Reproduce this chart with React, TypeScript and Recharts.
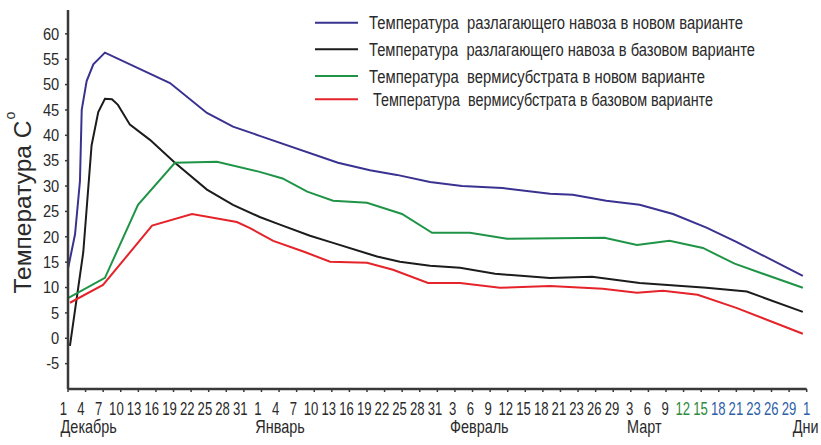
import React from 'react';
import { LineChart, Line, XAxis, YAxis, Legend } from 'recharts';

// X-axis tick labels (uniformly spaced categories)
const dayLabels = [
  '1', '4', '7', '10', '13', '16', '19', '22', '25', '28', '31',
  '1', '4', '7', '10', '13', '16', '19', '22', '25', '28', '31',
  '3', '6', '9', '12', '15', '18', '21', '23', '26', '29',
  '3', '6', '9', '12', '15', '18', '21', '23', '26', '29',
  '1',
];
const monthLabels = [
  { index: 0, name: 'Декабрь' },
  { index: 11, name: 'Январь' },
  { index: 22, name: 'Февраль' },
  { index: 32, name: 'Март' },
  { index: 42, name: 'Дни' },
];
const greenDayIdx = [35, 36];
const blueDayIdx = [37, 38, 39, 40, 41, 42];
const yTicks = [-5, 0, 5, 10, 15, 20, 25, 30, 35, 40, 45, 50, 55, 60];

const seriesNames = [
  'Температура  разлагающего навоза в новом варианте',
  'Температура  разлагающего навоза в базовом варианте',
  'Температура  вермисубстрата в новом варианте',
  'Температура  вермисубстрата в базовом варианте',
];

// [position on the day-label axis, temperature °C]
const manureNew: [number, number][] = [
  [0, 13.7], [0.4, 20.5], [0.68, 31], [0.78, 45], [1.06, 50.7], [1.44, 54], [2.1, 56.3],
  [5.8, 50.3], [7.9, 44.4], [9.38, 41.7], [10.9, 39.9], [15.35, 34.6], [17.17, 33.1],
  [18.7, 32.2], [20.58, 30.8], [22.4, 30.0], [24.7, 29.6], [27.4, 28.5], [28.7, 28.3],
  [30.6, 27.1], [32.5, 26.3], [34.4, 24.5], [36.3, 21.8], [38.0, 19.0], [41.78, 12.3],
];
const manureBase: [number, number][] = [
  [0.11, -1.5], [0.87, 17], [1.34, 38], [1.72, 44.6], [2.1, 47.2], [2.5, 47.1], [2.84, 46],
  [3.52, 42.1], [4.66, 39.1], [6.08, 34.6], [7.9, 29.3], [9.38, 26.3], [10.9, 23.9],
  [12.05, 22.4], [13.76, 20.2], [15.07, 18.8], [17.57, 16.1], [18.87, 15.1], [20.58, 14.3],
  [22.29, 13.9], [24.28, 12.7], [27.4, 11.9], [29.8, 12.1], [32.5, 10.9], [36.3, 9.95],
  [38.6, 9.2], [41.78, 5.2],
];
const vermiNew: [number, number][] = [
  [0, 7.9], [2.1, 11.9], [3.98, 26.3], [6.08, 34.6], [8.47, 34.8], [10.9, 32.8],
  [12.2, 31.5], [13.6, 28.9], [15.07, 27.1], [17.0, 26.7], [18.99, 24.5], [20.7, 20.8],
  [22.85, 20.8], [24.96, 19.6], [30.5, 19.8], [32.35, 18.4], [34.2, 19.2], [36.1, 17.8],
  [37.9, 14.7], [41.78, 9.95],
];
const vermiBase: [number, number][] = [
  [0.11, 7.0], [1.99, 10.5], [4.78, 22.2], [7.05, 24.5], [9.6, 22.9], [10.35, 21.7],
  [11.67, 19.2], [13.38, 17.1], [14.9, 15.1], [17.0, 14.9], [18.48, 13.5], [20.47, 10.9],
  [22.29, 10.9], [24.56, 9.95], [27.4, 10.3], [30.4, 9.75], [32.35, 8.97], [33.83, 9.36],
  [35.8, 8.57], [38.0, 6.0], [41.78, 0.9],
];

const toPoints = (arr: [number, number][]) => arr.map(([x, y]) => ({ x, y }));
const xTicks = dayLabels.map((_, i) => i);

const FONT = '"Liberation Sans", Arial, sans-serif';
const TEXT = '#2a2a2a';
const AXIS = '#3a3a3a';
const COLORS = ['#3a3290', '#1c1c1c', '#1f9447', '#e5232a'];

const XTick = (props: any) => {
  const { x, y, payload } = props;
  const i = payload.value as number;
  const last = dayLabels.length - 1;
  const shift = -4.7 + (4.7 * i) / last;
  const color = greenDayIdx.includes(i) ? '#2e8b3d' : blueDayIdx.includes(i) ? '#2f5fa8' : TEXT;
  const month = monthLabels.find((m) => m.index === i);
  const mx = i === last ? x - 14 : x + shift - 2.7;
  return (
    <g>
      <text
        transform={`translate(${x + shift},${y + 21}) scale(0.75,1)`}
        textAnchor="middle"
        fontSize={17.5}
        fontFamily={FONT}
        fill={color}
      >
        {dayLabels[i]}
      </text>
      {month && (
        <text
          transform={`translate(${mx},${y + 39.3}) scale(0.78,1)`}
          textAnchor="start"
          fontSize={18.5}
          fontFamily={FONT}
          fill={TEXT}
        >
          {month.name}
        </text>
      )}
    </g>
  );
};

const YTick = (props: any) => {
  const { x, y, payload } = props;
  return (
    <text
      transform={`translate(${x - 3.8},${y + 5.8}) scale(0.9,1)`}
      textAnchor="end"
      fontSize={16.3}
      fontFamily={FONT}
      fill={TEXT}
    >
      {payload.value}
    </text>
  );
};

const YTitle = (props: any) => {
  const vb = props.viewBox || { x: 0, y: 10, width: 68, height: 379 };
  const cy = vb.y + vb.height / 2;
  return (
    <text
      transform={`translate(${vb.x + 30.7},${cy + 94}) rotate(-90)`}
      fontSize={24.5}
      fontFamily={FONT}
      fill={TEXT}
    >
      Температура C
      <tspan dx={1} dy={-15.7} fontSize={14}>o</tspan>
    </text>
  );
};

const legendRows = [
  { y: 22.7, tx: 369, w: 374 },
  { y: 49.3, tx: 369, w: 386 },
  { y: 76, tx: 369, w: 336 },
  { y: 99.3, tx: 373, w: 340 },
];
const LEGEND_SQUEEZE = 0.82;

const renderLegend = (props: any) => {
  const payload = props.payload || [];
  return (
    <svg width={821} height={120} style={{ display: 'block', overflow: 'visible' }}>
      {seriesNames.map((name, i) => {
        const entry = payload.find((p: any) => p.value === name);
        const color = entry ? entry.color : COLORS[i];
        const r = legendRows[i];
        return (
          <g key={i}>
            <line x1={315} x2={358} y1={r.y} y2={r.y} stroke={color} strokeWidth={2} />
            <text
              transform={`translate(${r.tx},${r.y + 6.6}) scale(${LEGEND_SQUEEZE},1)`}
              fontSize={18.5}
              fontFamily={FONT}
              fill={TEXT}
              textLength={r.w / LEGEND_SQUEEZE}
              lengthAdjust="spacingAndGlyphs"
              style={{ whiteSpace: 'pre' }}
            >
              {name}
            </text>
          </g>
        );
      })}
    </svg>
  );
};

const series = [manureNew, manureBase, vermiNew, vermiBase];

export default function App() {
  return (
    <div style={{ position: 'absolute', left: 0, top: 0, width: 821, height: 445, background: '#fff' }}>
      <LineChart width={821} height={445} margin={{ top: 10, right: 14.3, left: 0, bottom: 0 }}>
        <XAxis
          type="number"
          dataKey="x"
          domain={[0, 42]}
          ticks={xTicks}
          interval={0}
          allowDataOverflow
          height={56}
          tickSize={3}
          axisLine={{ stroke: AXIS, strokeWidth: 2.5 }}
          tickLine={{ stroke: AXIS, strokeWidth: 1.5 }}
          tick={<XTick />}
        />
        <YAxis
          type="number"
          domain={[-10, 64.7]}
          ticks={yTicks}
          interval={0}
          allowDataOverflow
          width={68}
          tickSize={3}
          axisLine={{ stroke: AXIS, strokeWidth: 2.5 }}
          tickLine={{ stroke: AXIS, strokeWidth: 1.5 }}
          tick={<YTick />}
          label={<YTitle />}
        />
        <Legend
          layout="horizontal"
          verticalAlign="middle"
          align="center"
          content={renderLegend}
          wrapperStyle={{ position: 'absolute', left: 0, top: 0, width: 821, height: 120 }}
        />
        {series.map((s, i) => (
          <Line
            key={i}
            data={toPoints(s)}
            dataKey="y"
            name={seriesNames[i]}
            type="linear"
            stroke={COLORS[i]}
            strokeWidth={2}
            dot={false}
            activeDot={false}
            isAnimationActive={false}
          />
        ))}
      </LineChart>
    </div>
  );
}
